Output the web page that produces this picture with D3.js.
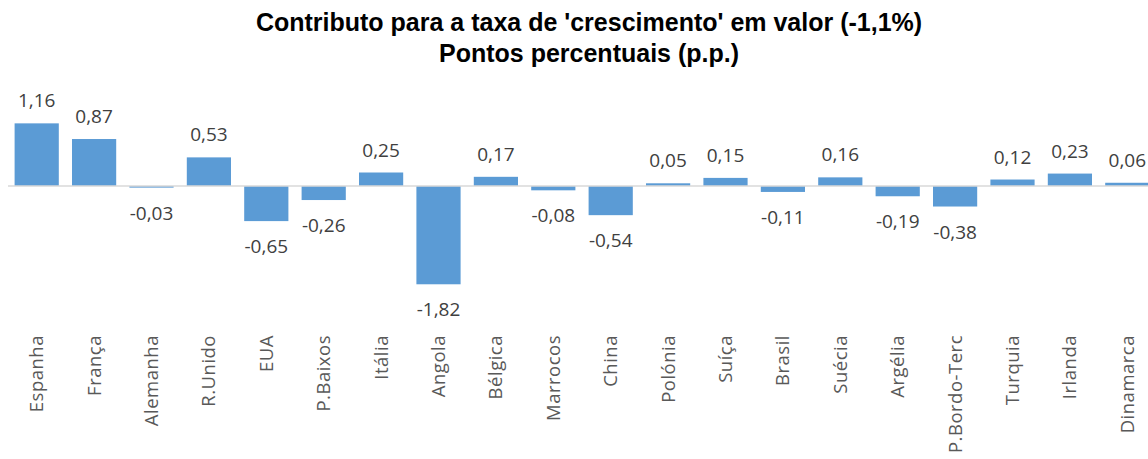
<!DOCTYPE html>
<html>
<head>
<meta charset="utf-8">
<script src="https://cdn.jsdelivr.net/npm/d3@7"></script>
<style>
  body { margin: 0; background: #fff; }
  svg { display: block; }
</style>
</head>
<body>
<svg id="chart" width="1148" height="459"></svg>
<script>
// countries and their contribution (p.p.)
var paises = ["Espanha", "França", "Alemanha", "R.Unido", "EUA", "P.Baixos", "Itália",
  "Angola", "Bélgica", "Marrocos", "China", "Polónia", "Suíça", "Brasil", "Suécia",
  "Argélia", "P.Bordo-Terc", "Turquia", "Irlanda", "Dinamarca"];
var valores = [1.16, 0.87, -0.03, 0.53, -0.65, -0.26, 0.25, -1.82, 0.17, -0.08,
  -0.54, 0.05, 0.15, -0.11, 0.16, -0.19, -0.38, 0.12, 0.23, 0.06];
var titulo = ["Contributo para a taxa de 'crescimento' em valor (-1,1%)",
  "Pontos percentuais (p.p.)"];

var svg = d3.select("#chart");
// portuguese decimal comma, plain hyphen for the sign
var fmt = function(v) { return d3.format(".2f")(v).replace(".", ",").replace("\u2212", "-"); };

var x = d3.scaleBand()
  .domain(paises)
  .range([8, 1156])
  .paddingInner(0.23)
  .paddingOuter(0.115);

var y = d3.scaleLinear()
  .domain([-2, 1.4])
  .range([186 + 2 * 54, 186 - 1.4 * 54]);

// title
svg.append("g").selectAll("text")
  .data(titulo)
  .enter().append("text")
  .attr("x", 589)
  .attr("y", function(d, i) { return 31 + i * 31; })
  .attr("text-anchor", "middle")
  .style("font-family", "'Liberation Sans', Arial, sans-serif")
  .style("font-weight", "bold")
  .style("font-size", "25px")
  .style("fill", "#000")
  .text(function(d) { return d; });

// bars
svg.append("g").selectAll("rect")
  .data(valores)
  .enter().append("rect")
  .attr("x", function(d, i) { return x(paises[i]); })
  .attr("width", x.bandwidth())
  .attr("y", function(d) { return y(Math.max(0, d)); })
  .attr("height", function(d) { return Math.abs(y(d) - y(0)); })
  .attr("fill", "#5b9bd5");

// zero line
svg.append("line")
  .attr("x1", 8).attr("x2", 1148)
  .attr("y1", y(0)).attr("y2", y(0))
  .attr("stroke", "#d9d9d9")
  .attr("stroke-width", 1.5);

// value labels
svg.append("g").selectAll("text")
  .data(valores)
  .enter().append("text")
  .attr("x", function(d, i) { return x(paises[i]) + x.bandwidth() / 2; })
  .attr("y", function(d) { return d >= 0 ? y(d) - 16 : y(d) + 32; })
  .attr("text-anchor", "middle")
  .style("font-family", "'Open Sans', sans-serif")
  .style("font-size", "19px")
  .style("fill", "#404040")
  .text(fmt);

// category labels (rotated)
svg.append("g").selectAll("text")
  .data(paises)
  .enter().append("text")
  .attr("transform", function(d) {
    return "translate(" + (x(d) + x.bandwidth() / 2) + ",335) rotate(-90)";
  })
  .attr("text-anchor", "end")
  .attr("dy", "0.35em")
  .style("font-family", "'Open Sans', sans-serif")
  .style("font-size", "18.5px")
  .style("letter-spacing", "0.5px")
  .style("fill", "#595959")
  .text(function(d) { return d; });
</script>
</body>
</html>
